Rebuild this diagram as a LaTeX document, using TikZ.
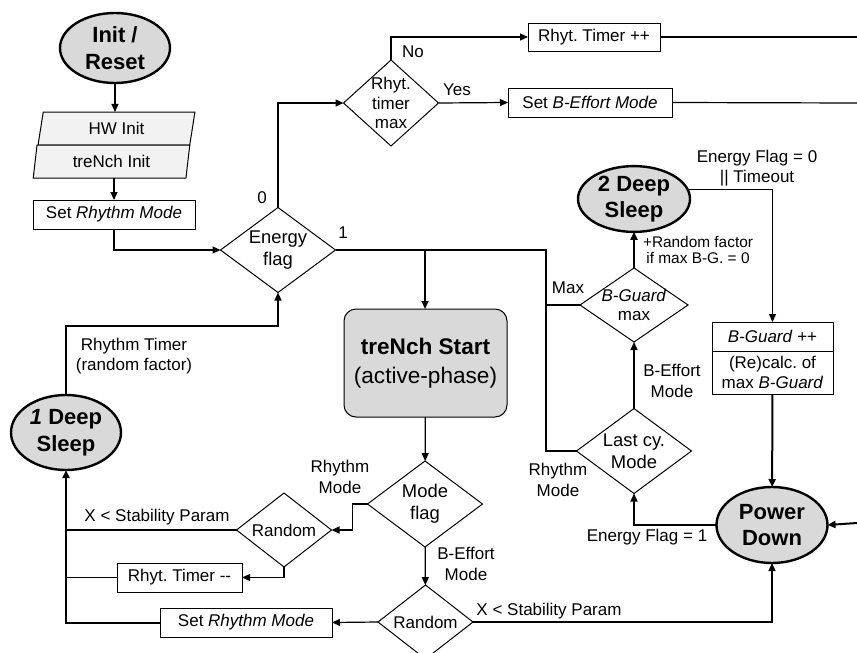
\documentclass[tikz,border=0pt]{standalone}
\usepackage{fontspec}
\setmainfont{Liberation Sans}
\usetikzlibrary{arrows.meta,positioning,shapes.geometric}
\definecolor{termgray}{gray}{0.85}
\definecolor{iogray}{gray}{0.95}
\frenchspacing
\begin{document}
\begin{tikzpicture}[x=0.5pt,y=-0.5pt,line width=0.6pt,line join=miter,
  >={Triangle[length=4pt,width=3.5pt]},
  every node/.style={inner sep=0pt,outer sep=0pt,font=\fontsize{8.5}{10.2}\selectfont},
  term/.style 2 args={ellipse,draw,line width=1.2pt,fill=termgray,minimum width=#1,minimum height=#2,align=center,font=\bfseries\fontsize{11}{13.3}\selectfont},
  io/.style={trapezium,trapezium left angle=81,trapezium right angle=99,trapezium stretches=true,draw,line width=0.5pt,fill=iogray,minimum width=78.5pt,minimum height=16.5pt},
  proc/.style 2 args={rectangle,draw,line width=0.5pt,minimum width=#1,minimum height=#2,align=center},
  decision/.style 2 args={diamond,draw,line width=0.5pt,minimum width=#1,minimum height=#2},
  dtext/.style={align=center,font=\fontsize{9.2}{10.8}\selectfont},
  ntext/.style={align=center,font=\fontsize{8.5}{9.6}\selectfont},
  note/.style={align=center},
  heavy/.style={line width=1pt}]
\useasboundingbox (0,0) rectangle (857,653);
% start and init
\node[term={55pt}{35pt}] (init) at (115,48) {Init /\\Reset};
\node[io] (hw) at (116.5,128.5) {HW Init};
\node[io] (tri) at (111.5,161.5) {treNch Init};
\node[proc={81pt}{14.5pt}] (setr) at (114,214.5) {Set \textit{Rhythm Mode}};
% decisions, upper part
\node[decision={57.5pt}{42.5pt},label={[dtext]center:{Energy\\flag}}] (energy) at (278,250) {};
\node[decision={47.5pt}{43pt},label={[ntext]center:{Rhyt.\\timer\\max}}] (rhyt) at (391,103) {};
\node[proc={66pt}{14pt}] (timerpp) at (594,37) {Rhyt. Timer ++};
\node[proc={82pt}{14.5pt}] (beff) at (590,102.5) {Set \textit{B-Effort Mode}};
% right column
\node[term={56pt}{31pt}] (sleep2) at (634,199) {2 Deep\\Sleep};
\node[proc={60.5pt}{14.5pt}] (bginc) at (772.5,336.5) {\textit{B-Guard} ++};
\node[proc={60.5pt}{21.5pt},below=0pt of bginc] (recalc) {(Re)calc. of\\max \textit{B-Guard}};
\node[decision={54pt}{37pt},label={[ntext]center:{\textit{B-Guard}\\max}}] (bgmax) at (634,305) {};
\node[decision={57.5pt}{42.5pt},label={[dtext]center:{Last cy.\\Mode}}] (last) at (634,451) {};
\node[term={55.5pt}{38pt}] (pwr) at (772,525) {Power\\Down};
% active phase
\node[rectangle,draw,line width=0.5pt,rounded corners=6pt,fill=termgray,minimum width=81.5pt,minimum height=54pt,align=center,
  font=\fontsize{11.3}{14.5}\selectfont] (trench) at (425.5,363) {\textbf{treNch Start}\\(active-phase)};
\node[decision={57.5pt}{43pt},label={[dtext]center:{Mode\\flag}}] (mode) at (425,504) {};
\node[decision={47.5pt}{37pt},label={[ntext]center:Random}] (randL) at (284,530) {};
\node[proc={62.5pt}{14.5pt}] (timerdec) at (179.5,577.5) {Rhyt. Timer -{}-};
\node[decision={47.5pt}{37pt},label={[ntext]center:Random}] (randB) at (425.5,622) {};
\node[proc={86pt}{14.5pt}] (setr2) at (246,622.5) {Set \textit{Rhythm Mode}};
\node[term={55pt}{37.5pt}] (sleep1) at (66,432.5) {\textit{1} Deep\\Sleep};
% free ends and junctions
\coordinate (e1) at (857,37);
\coordinate (e2) at (857,103);
\coordinate (e3) at (857,523);
\coordinate (jA) at (425,250);
\coordinate (jB) at (546,250);
% labels
\node (l0) at (262,198) {0};
\node (l1) at (343,233) {1};
\node (lno) at (413,52) {No};
\node (lyes) at (457,90) {Yes};
\node[note,font=\fontsize{8.5}{10}\selectfont] (lef0) at (757,168) {Energy Flag = 0\\|| Timeout};
\node[note,font=\fontsize{7.7}{8.3}\selectfont] (lrand) at (698,250) {+Random factor\\if max B-G. = 0};
\node (lmax) at (568,288) {Max};
\node[note] (lbeff1) at (672,381) {B-Effort\\Mode};
\node[note] (lrhy1) at (558,480) {Rhythm\\Mode};
\node (lef1) at (647,537) {Energy Flag = 1};
\node (lstab1) at (549,611) {X < Stability Param};
\node[note] (lrhy2) at (340,477) {Rhythm\\Mode};
\node[note] (lbeff2) at (466,564) {B-Effort\\Mode};
\node (lstab2) at (157,517) {X < Stability Param};
\node[note] (ltimer) at (134,356) {Rhythm Timer\\(random factor)};
% connectors
\draw[->] (init) -- (init |- hw.north);
\draw[->] (setr.north |- tri.south) -- (setr.north);
\draw[->] (setr.south) |- (energy.west);
\draw[->] (energy.north) |- (rhyt.west);
\draw[->] (rhyt.north) |- (timerpp.west);
\draw[->] (rhyt.east) -- (beff.west);
\draw (timerpp.east) -- (e1);
\draw (beff.east) -- (e2);
\draw (energy.east) -- (jB) |- (last.west);
\draw (bgmax.west) -- (bgmax.west -| jB);
\draw[->,heavy] (jA) -- (jA |- trench.north);
\draw[->] (trench) -- (mode);
\draw[->] (mode.west) -- ++(-15,0) |- (randL.east);
\draw[->] (mode) -- (randB);
\draw (randL.west) -- (randL.west -| sleep1.south);
\draw[->] (randL.south) |- (timerdec.east);
\draw (timerdec.west) -- (timerdec.west -| sleep1.south);
\draw[->] (randB.west) -- (setr2.east);
\draw[->,heavy] (setr2.west) -| (sleep1.south);
\draw[->] (sleep1.north) -- ++(0,-69) -| (energy.south);
\draw[->] (randB.east) -| (pwr.south);
\draw[->] (pwr.west) -| (last.south);
\draw[->] (last) -- (bgmax);
\draw[->,heavy] (bgmax) -- (sleep2);
\draw[->] (sleep2.10) -| (bginc.north);
\draw[->,heavy] (recalc) -- (pwr);
\draw[->,heavy] (e3) -- (pwr.east);
\end{tikzpicture}
\end{document}
